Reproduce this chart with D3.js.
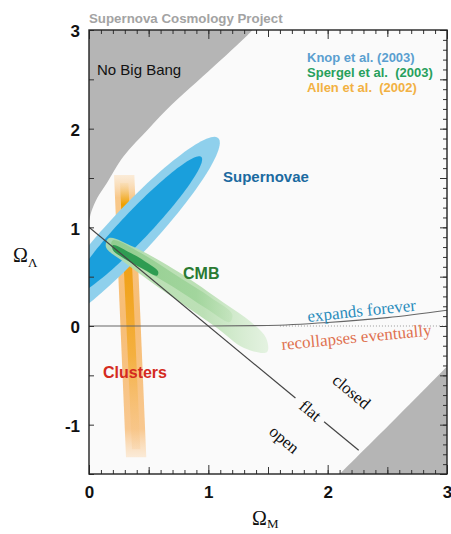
<!DOCTYPE html>
<html>
<head>
<meta charset="utf-8">
<script src="https://d3js.org/d3.v7.min.js"></script>
<style>
  body { margin: 0; background: #fff; }
  svg text { font-family: "Liberation Sans", Arial, sans-serif; }
  svg .serif { font-family: "Liberation Serif", "Times New Roman", serif; }
</style>
</head>
<body>
<svg id="chart" width="451" height="534"></svg>
<script>
// ---- data (Omega_M, Omega_Lambda) ----
const xTickLabels = [0, 1, 2, 3];
const yTickLabels = [-1, 0, 1, 2, 3];

// boundary of the "No Big Bang" region
const noBigBang = [[0, 1.06], [0.02, 1.16], [0.07, 1.3], [0.15, 1.45], [0.29, 1.72], [0.5, 2.0],
                   [0.69, 2.24], [0.9, 2.47], [1.1, 2.69], [1.33, 2.95], [1.37, 3.0]];
// grey corner lower right
const lowerRight = [[2.1, -1.5], [2.55, -0.96], [3, -0.41]];

// flat universe line, broken where the "flat" label sits
const flatLine1 = [[0, 1], [1.73, -0.73]];
const flatLine2 = [[1.97, -0.97], [2.26, -1.26]];
// expands forever / recollapses boundary
const expandLine = [[0, 0], [1, 0], [1.5, 0.005], [2, 0.035], [2.5, 0.085], [3, 0.16]];
const zeroDotted = [[1.6, 0], [3, 0]];

// supernova confidence ellipses: centre, major and minor semi-axis vectors
const snOuter = { c: [0.352, 0.952], u: [0.731, 0.952], v: [0.14, -0.158] };
const snInner = { c: [0.394, 1.013], u: [0.547, 0.700], v: [0.088, -0.1] };

// cluster band (Allen et al.)
const clusterOuter = [[0.21, 1.53], [0.38, 1.53], [0.48, -1.33], [0.31, -1.33]];
const clusterInner = [[0.26, 1.45], [0.33, 1.45], [0.43, -1.25], [0.36, -1.25]];

// CMB band (Spergel et al.)
const cmbOuter = [[0.168, 0.892], [0.377, 0.800], [0.654, 0.618], [0.880, 0.446], [1.132, 0.233],
                  [1.358, 0.041], [1.484, -0.122], [1.492, -0.263], [1.299, -0.223], [1.073, -0.020],
                  [0.796, 0.213], [0.520, 0.446], [0.293, 0.648], [0.142, 0.800]];
const cmbMid = [[0.2, 0.87], [0.45, 0.73], [0.75, 0.5], [1.02, 0.29], [1.2, 0.12], [1.18, 0.04],
                [0.98, 0.18], [0.7, 0.4], [0.42, 0.6], [0.19, 0.79]];
const cmbCore = [[0.20, 0.82], [0.35, 0.74], [0.50, 0.63], [0.58, 0.55], [0.57, 0.51],
                 [0.45, 0.58], [0.30, 0.68], [0.20, 0.77]];

const legendItems = ["Knop et al. (2003)", "Spergel et al.  (2003)", "Allen et al.  (2002)"];
const legendColors = ["#5a9fd0", "#27a05c", "#f2b142"];

// ---- chart ----
const svg = d3.select('#chart');
const x = d3.scaleLinear().domain([0, 3]).range([89, 447]);
const y = d3.scaleLinear().domain([-1.5, 3]).range([474, 30]);

const defs = svg.append('defs');
defs.append('clipPath').attr('id', 'plotclip')
  .append('rect').attr('x', x(0)).attr('y', y(3))
  .attr('width', x(3) - x(0)).attr('height', y(-1.5) - y(3));

function grad(id, stops, horizontal) {
  const g = defs.append('linearGradient').attr('id', id)
    .attr('x1', 0).attr('y1', 0).attr('x2', horizontal ? 1 : 0).attr('y2', horizontal ? 0 : 1);
  stops.forEach(s => g.append('stop').attr('offset', s[0]).attr('stop-color', s[1]).attr('stop-opacity', s[2]));
}
grad('clOut', [[0, '#fbe2c2', 0.6], [0.08, '#f8c88a', 1], [0.5, '#f7bd74', 1], [0.9, '#f8c890', 1], [1, '#fbe0c0', 0.6]]);
grad('clIn', [[0, '#f7d08a', 0.2], [0.08, '#eea000', 1], [0.35, '#f0a21a', 1], [0.65, '#f4b040', 1], [1, '#f8c890', 0.3]]);
grad('cmbOut', [[0, '#b3dcac', 1], [0.6, '#b7deb0', 1], [1, '#d8eed3', 0.7]], true);
grad('cmbMidG', [[0, '#8ecb8b', 1], [0.7, '#9fd49a', 1], [1, '#b7deb0', 0.5]], true);

svg.append('rect').attr('x', x(0)).attr('y', y(3))
  .attr('width', x(3) - x(0)).attr('height', y(-1.5) - y(3)).attr('fill', '#fafafa');

const plot = svg.append('g').attr('clip-path', 'url(#plotclip)');
const line = d3.line().x(d => x(d[0])).y(d => y(d[1]));
const smooth = d3.line().x(d => x(d[0])).y(d => y(d[1])).curve(d3.curveCatmullRom);
const closedSmooth = d3.line().x(d => x(d[0])).y(d => y(d[1])).curve(d3.curveCatmullRomClosed);

// grey regions
plot.append('path')
  .attr('d', smooth(noBigBang) + 'L' + x(0) + ',' + y(3) + 'Z')
  .attr('fill', '#b5b5b5');
plot.append('path')
  .attr('d', smooth(lowerRight) + 'L' + x(3) + ',' + y(-1.5) + 'Z')
  .attr('fill', '#b5b5b5');

// clusters
plot.append('path').attr('d', line(clusterOuter) + 'Z').attr('fill', 'url(#clOut)');
plot.append('path').attr('d', line(clusterInner) + 'Z').attr('fill', 'url(#clIn)');

// supernova ellipses
function ellipse(e) {
  const pts = d3.range(0, 2 * Math.PI, Math.PI / 60).map(t => [
    e.c[0] + e.u[0] * Math.cos(t) + e.v[0] * Math.sin(t),
    e.c[1] + e.u[1] * Math.cos(t) + e.v[1] * Math.sin(t)]);
  return line(pts) + 'Z';
}
plot.append('path').attr('d', ellipse(snOuter)).attr('fill', '#8fd0ec');
plot.append('path').attr('d', ellipse(snInner)).attr('fill', '#1a9fdc');

// CMB
plot.append('path').attr('d', closedSmooth(cmbOuter)).attr('fill', 'url(#cmbOut)').attr('opacity', 0.92);
plot.append('path').attr('d', closedSmooth(cmbMid)).attr('fill', 'url(#cmbMidG)').attr('opacity', 0.9);
plot.append('path').attr('d', closedSmooth(cmbCore)).attr('fill', '#2f9c52');

// lines
plot.append('path').attr('d', line(zeroDotted)).attr('stroke', '#999').attr('stroke-width', 1)
  .attr('stroke-dasharray', '1,2').attr('fill', 'none');
plot.append('path').attr('d', d3.line().x(d => x(d[0])).y(d => y(d[1])).curve(d3.curveMonotoneX)(expandLine))
  .attr('stroke', '#666').attr('stroke-width', 1.1).attr('fill', 'none');
[flatLine1, flatLine2].forEach(l => plot.append('path').attr('d', line(l))
  .attr('stroke', '#444').attr('stroke-width', 1.2).attr('fill', 'none'));

// ---- axes ----
function ticks(axis, vals, size, transform) {
  svg.append('g').attr('transform', transform)
    .call(axis.tickValues(vals).tickSize(size).tickFormat(''))
    .call(g => g.select('.domain').remove())
    .call(g => g.selectAll('line').attr('stroke', '#333').attr('stroke-width', 1));
}
const tenths = d3.range(0, 31).map(i => i / 10);
const halves = [0.5, 1.5, 2.5];
const yTenths = d3.range(-15, 31).map(i => i / 10);
const yHalves = d3.range(-3, 7).map(i => i / 2);
ticks(d3.axisBottom(x), tenths, -4, `translate(0,${y(-1.5)})`);
ticks(d3.axisBottom(x), halves, -7, `translate(0,${y(-1.5)})`);
ticks(d3.axisBottom(x), xTickLabels, -9, `translate(0,${y(-1.5)})`);
ticks(d3.axisTop(x), tenths, -4, `translate(0,${y(3)})`);
ticks(d3.axisTop(x), halves, -7, `translate(0,${y(3)})`);
ticks(d3.axisTop(x), xTickLabels, -9, `translate(0,${y(3)})`);
ticks(d3.axisLeft(y), yHalves, -5, `translate(${x(0)},0)`);
ticks(d3.axisRight(y), yTenths, -4, `translate(${x(3)},0)`);
ticks(d3.axisRight(y), yHalves, -7, `translate(${x(3)},0)`);

svg.append('rect').attr('x', x(0)).attr('y', y(3))
  .attr('width', x(3) - x(0)).attr('height', y(-1.5) - y(3))
  .attr('fill', 'none').attr('stroke', '#222').attr('stroke-width', 1.4);

svg.append('g').attr('transform', `translate(0,${y(-1.5)})`)
  .call(d3.axisBottom(x).tickValues(xTickLabels).tickSize(0).tickPadding(12).tickFormat(d => String(d)))
  .call(g => g.select('.domain').remove())
  .call(g => g.selectAll('text').attr('font-family', '"Liberation Sans", Arial, sans-serif')
    .attr('font-size', 17).attr('font-weight', 'bold').attr('fill', '#111'));
svg.append('g').attr('transform', `translate(${x(0)},0)`)
  .call(d3.axisLeft(y).tickValues(yTickLabels).tickSize(0).tickPadding(9).tickFormat(d => String(d)))
  .call(g => g.select('.domain').remove())
  .call(g => g.selectAll('text').attr('font-family', '"Liberation Sans", Arial, sans-serif')
    .attr('font-size', 17).attr('font-weight', 'bold').attr('fill', '#111').attr('dy', '0.4em'));

// axis titles
const xt = svg.append('text').attr('class', 'serif').attr('x', 252).attr('y', 525)
  .attr('font-size', 20).attr('fill', '#111').text('Ω');
xt.append('tspan').attr('dy', 3).attr('font-size', 13).text('M');
const yt = svg.append('text').attr('class', 'serif').attr('x', 13).attr('y', 262)
  .attr('font-size', 20).attr('fill', '#111').text('Ω');
yt.append('tspan').attr('dy', 5).attr('font-size', 13).text('Λ');

// title
svg.append('text').attr('x', 89).attr('y', 23).attr('font-size', 13.3).attr('font-weight', 'bold')
  .attr('fill', '#a3a3a3').text('Supernova Cosmology Project');

// ---- labels inside the plot ----
function label(txt, p, opts) {
  const t = svg.append('text')
    .attr('transform', `translate(${x(p[0])},${y(p[1])}) rotate(${opts.rot || 0})`)
    .attr('font-size', opts.size).attr('fill', opts.color)
    .attr('font-weight', opts.bold ? 'bold' : 'normal')
    .attr('text-anchor', opts.anchor || 'start')
    .attr('dy', opts.dy || 0)
    .style('white-space', 'pre')
    .text(txt);
  if (opts.serif) t.attr('class', 'serif');
  return t;
}
label('No Big Bang', [0.067, 2.544], { size: 15, color: '#111' });
label('Supernovae', [1.123, 1.459], { size: 15, color: '#1b6aa0', bold: true });
label('CMB', [0.788, 0.476], { size: 16, color: '#2a7a32', bold: true });
label('Clusters', [0.117, -0.527], { size: 16, color: '#d42a20', bold: true });
legendItems.forEach((t, i) => label(t, [1.827, [2.672, 2.52, 2.368][i]],
  { size: 13, color: legendColors[i], bold: true }));
label('expands forever', [1.835, 0.041], { size: 17, color: '#2a8cbc', serif: true, rot: -6 });
label('recollapses eventually', [1.617, -0.243], { size: 17, color: '#df7150', serif: true, rot: -5.5 });
label('closed', [2.196, -0.669], { size: 17, color: '#111', serif: true, rot: 40, anchor: 'middle', dy: '0.3em' });
label('flat', [1.852, -0.862], { size: 17, color: '#111', serif: true, rot: 40, anchor: 'middle', dy: '0.3em' });
label('open', [1.634, -1.155], { size: 17, color: '#111', serif: true, rot: 40, anchor: 'middle', dy: '0.3em' });
</script>
</body>
</html>
